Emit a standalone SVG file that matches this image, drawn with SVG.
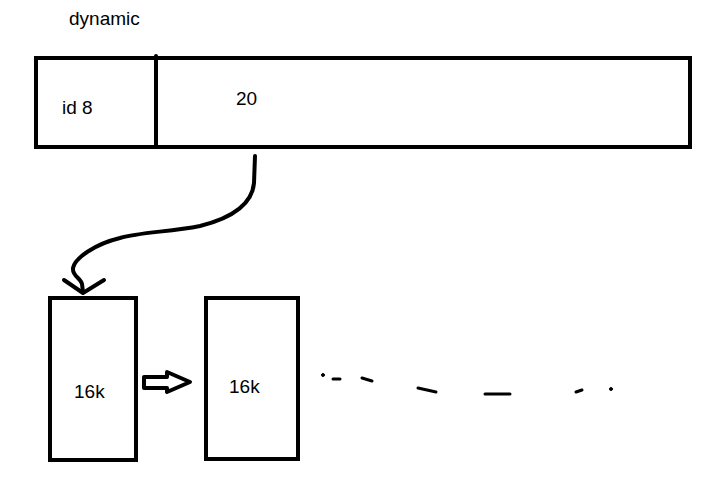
<svg xmlns="http://www.w3.org/2000/svg" width="713" height="482" viewBox="0 0 713 482">
<style>
.box{fill:none;stroke:#000;stroke-width:4}
.ln{fill:none;stroke:#000;stroke-width:4;stroke-linecap:round;stroke-linejoin:round}
.t{font-family:"Liberation Sans",Arial,sans-serif;font-size:19px;fill:#000}
</style>
<rect width="713" height="482" fill="#fff"/>
<text class="t" x="69" y="25">dynamic</text>
<g id="record">
<rect class="box" x="36" y="58" width="654" height="89"/>
<line class="ln" x1="156" y1="56" x2="156" y2="147"/>
<text class="t" x="62" y="114">id 8</text>
<text class="t" x="236" y="105">20</text>
</g>
<g id="page1">
<rect class="box" x="50" y="298" width="86" height="162"/>
<text class="t" x="74" y="398">16k</text>
</g>
<g id="page2">
<rect class="box" x="206" y="298" width="92" height="161"/>
<text class="t" x="229" y="393">16k</text>
</g>
<g id="connectors">
<path class="ln" d="M255,156 L254,183 C252,205 232,218 200,226 C170,232 140,232 120,238 C95,244 75,258 73,268 C72,276 81,278 82,284 L83,292"/>
<path class="ln" d="M64,280 L83,293 L104,280"/>
<path class="ln" stroke-width="3.5" d="M144,377 L167,377 L167,372 L190,382 L167,392 L167,388 L144,388 Z"/>
<g fill="#000" stroke="#000" stroke-linecap="round">
<circle cx="323" cy="375" r="1.5"/>
<line x1="333" y1="379" x2="340" y2="379" stroke-width="3"/>
<line x1="362" y1="378" x2="372" y2="381" stroke-width="3"/>
<line x1="418" y1="388" x2="436" y2="392" stroke-width="3"/>
<line x1="485" y1="394" x2="510" y2="394" stroke-width="3"/>
<line x1="576" y1="392" x2="582" y2="390" stroke-width="3"/>
<circle cx="611" cy="389" r="1.5"/>
</g>
</g>
</svg>
